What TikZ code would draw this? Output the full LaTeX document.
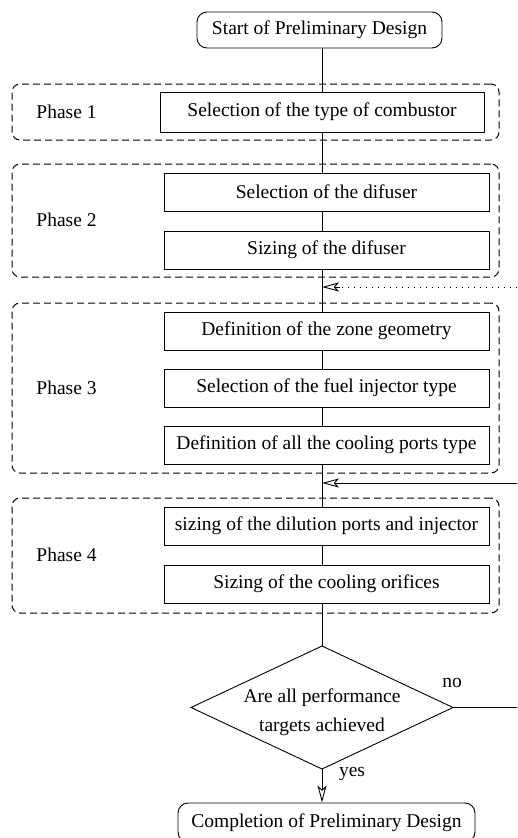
\documentclass[tikz,border=0pt]{standalone}
\usepackage{fontspec}
\setmainfont{Liberation Serif}
\usetikzlibrary{arrows.meta,calc}
\begin{document}
\begin{tikzpicture}[x=1pt,y=-1pt, font=\fontsize{19.5}{23}\selectfont, line width=0.9pt,
  stepbox/.style={draw, rectangle, minimum width=325pt, minimum height=38pt, inner sep=0pt},
  term/.style={draw, rounded corners=10pt, inner sep=0pt},
  phasebox/.style={draw, line width=1pt, dash pattern=on 7pt off 4pt, rounded corners=8pt, inner sep=0pt, minimum width=487pt},
  phaselabel/.style={anchor=west, inner sep=0pt},
  arr/.style={-{Stealth[open,length=17pt,width=9pt,inset=4pt]}},
  dotline/.style={dash pattern=on 1pt off 5pt}]
\useasboundingbox (0,0) rectangle (517,838);
\coordinate (axis) at (322,0);
% phase frames
\node[phasebox, minimum height=56pt] (ph1) at (255.5,112) {};
\node[phasebox, minimum height=113pt] (ph2) at (255.5,220.5) {};
\node[phasebox, minimum height=170pt] (ph3) at (255.5,388) {};
\node[phasebox, minimum height=115pt] (ph4) at (255.5,555.5) {};
\node[phaselabel] (l1) at (36,112) {Phase 1};
\node[phaselabel] (l2) at (36,220) {Phase 2};
\node[phaselabel] (l3) at (36,388) {Phase 3};
\node[phaselabel] (l4) at (36,555) {Phase 4};
% terminals
\node[term, minimum width=245pt, minimum height=36pt] (start) at (319.5,30) {Start of Preliminary Design};
\node[term, minimum width=297pt, minimum height=39pt] (end) at (326.5,822.5) {Completion of Preliminary Design};
% steps
\node[stepbox, minimum width=324pt, minimum height=40pt] (s1) at (322,112) {Selection of the type of combustor};
\node[stepbox] (s2) at (326.5,192) {Selection of the difuser};
\node[stepbox] (s3) at (326.5,250) {Sizing of the difuser};
\node[stepbox] (s4) at (326.5,331) {Definition of the zone geometry};
\node[stepbox] (s5) at (326.5,388) {Selection of the fuel injector type};
\node[stepbox] (s6) at (326.5,445) {Definition of all the cooling ports type};
\node[stepbox] (s7) at (326.5,526) {sizing of the dilution ports and injector};
\node[stepbox] (s8) at (326.5,584) {Sizing of the cooling orifices};
% decision
\coordinate (dtop) at (322,646);
\coordinate (dright) at (453,707.5);
\coordinate (dbot) at (322,769);
\coordinate (dleft) at (191,707.5);
\draw (dtop) -- (dright) -- (dbot) -- (dleft) -- cycle;
\node[align=center, inner sep=0pt] (dtext) at (322,712) {Are all performance\\[6pt]targets achieved};
\node[inner sep=0pt] (no) at (452,683) {no};
\node[inner sep=0pt] (yes) at (352,774) {yes};
% main flow
\draw (start.south -| axis) -- (s1.north -| axis);
\draw (s1.south -| axis) -- (s2.north -| axis);
\draw (s2.south -| axis) -- (s3.north -| axis);
\draw (s3.south -| axis) -- (s4.north -| axis);
\draw (s4.south -| axis) -- (s5.north -| axis);
\draw (s5.south -| axis) -- (s6.north -| axis);
\draw (s6.south -| axis) -- (s7.north -| axis);
\draw (s7.south -| axis) -- (s8.north -| axis);
\draw (s8.south -| axis) -- (dtop);
\draw[arr] (dbot) -- (end.north -| dbot);
% feedback
\coordinate (fbno) at (517,707.5);
\coordinate (fbsolid) at (517,483);
\coordinate (fbdot) at (517,287);
\draw (dright) -- (fbno);
\draw[arr] (fbsolid) -- (fbsolid -| axis);
\draw[dotline] (fbdot) -- ($(fbdot -| axis)+(17,0)$);
\draw[arr] ($(fbdot -| axis)+(18,0)$) -- (fbdot -| axis);
\end{tikzpicture}
\end{document}
